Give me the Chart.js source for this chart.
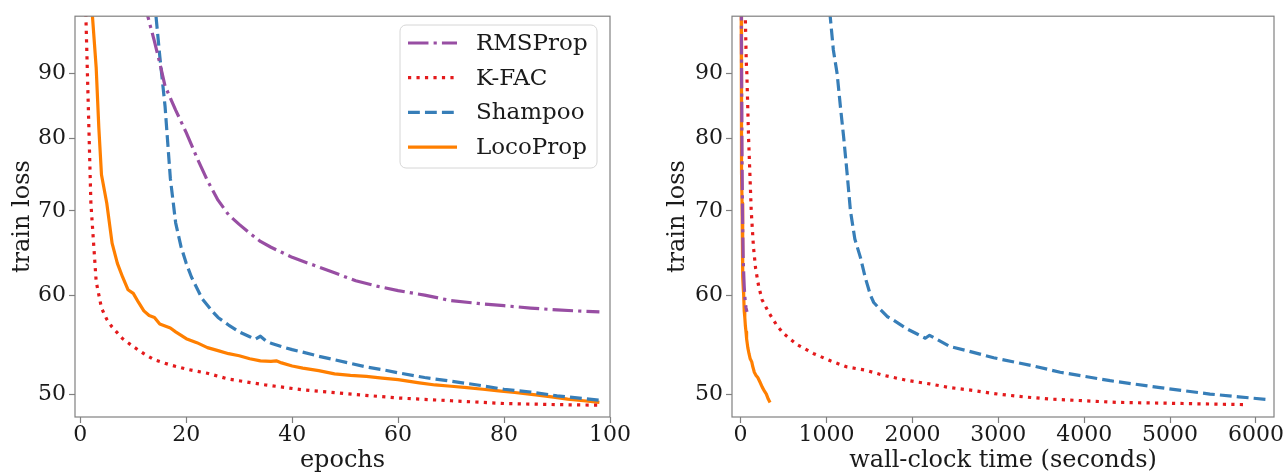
<!DOCTYPE html>
<html>
<head>
<meta charset="utf-8">
<script src="https://cdn.jsdelivr.net/npm/chart.js@4.4.1/dist/chart.umd.min.js"></script>
<style>
  body { margin: 0; background: #fff; }
  #wrap { position: relative; width: 1287px; height: 474px; overflow: hidden; }
  canvas { position: absolute; top: 0; }
  #left { left: 0; }
  #right { left: 640px; }
</style>
</head>
<body>
<div id="wrap">
  <canvas id="left" width="640" height="474"></canvas>
  <canvas id="right" width="647" height="474"></canvas>
</div>
<script>
// 축 눈금
const yTicks = [50, 60, 70, 80, 90];
const epochTicks = [0, 20, 40, 60, 80, 100];
const timeTicks = [0, 1000, 2000, 3000, 4000, 5000, 6000];
const seriesNames = ['RMSProp', 'K-FAC', 'Shampoo', 'LocoProp'];

// 왼쪽: epoch 기준
const epochsRMSProp = [12, 13, 14, 15, 16, 18, 20, 22, 24, 26, 28, 30, 32, 34, 36, 38, 40, 44, 48, 52, 56, 60, 65, 70, 75, 80, 85, 90, 95, 98];
const lossRMSProp = [103, 99, 95.5, 91.8, 88, 84.2, 80.8, 77.2, 74, 71.4, 69.5, 68.3, 67.2, 66.2, 65.5, 64.9, 64.3, 63.4, 62.5, 61.6, 61.0, 60.5, 60.0, 59.4, 59.1, 58.85, 58.6, 58.4, 58.25, 58.2];

const epochsKFAC = [1, 2, 3, 4, 5, 6, 8, 10, 12, 14, 17, 20, 24, 28, 35, 42, 50, 60, 70, 80, 90, 98];
const lossKFAC = [102, 71, 61.5, 58.6, 57.4, 56.6, 55.4, 54.6, 53.9, 53.3, 52.8, 52.4, 52.0, 51.45, 50.9, 50.45, 50.1, 49.7, 49.45, 49.2, 49.1, 49.05];

const epochsShampoo = [14, 15, 16, 17, 18, 19, 20, 21, 22, 23, 24, 25, 26, 28, 30, 32, 33, 34, 35, 36, 38, 40, 42, 45, 48, 51, 54, 57, 60, 65, 70, 75, 80, 85, 90, 95, 98];
const lossShampoo = [103, 93, 84.8, 74.3, 68.5, 65.6, 63.6, 62.0, 60.8, 59.6, 58.9, 58.2, 57.6, 56.8, 56.1, 55.6, 55.35, 55.65, 55.2, 54.95, 54.6, 54.3, 54.05, 53.65, 53.3, 52.95, 52.6, 52.35, 52.05, 51.6, 51.25, 50.9, 50.5, 50.25, 49.9, 49.65, 49.5];

const epochsLocoProp = [2, 3, 3.5, 4, 5, 6, 7, 8, 9, 10, 11, 12, 13, 14, 15, 16, 17, 18, 20, 22, 24, 26, 28, 30, 32, 34, 36, 37, 38, 40, 42, 45, 48, 51, 54, 57, 60, 64, 67, 70, 73, 76, 79, 82, 86, 89, 92, 95, 98];
const lossLocoProp = [104, 91, 81.5, 74.8, 71, 66, 63.6, 62, 60.6, 60.2, 59.2, 58.3, 57.8, 57.6, 56.9, 56.7, 56.5, 56.1, 55.4, 55.0, 54.5, 54.2, 53.9, 53.7, 53.4, 53.2, 53.15, 53.2, 53.0, 52.7, 52.5, 52.25, 51.95, 51.8, 51.7, 51.55, 51.4, 51.1, 50.9, 50.78, 50.66, 50.5, 50.36, 50.2, 49.98, 49.8, 49.6, 49.45, 49.3];

// 오른쪽: 경과 시간(초) 기준
const timeRMSProp = [9, 10, 12, 14, 15, 17, 19, 21, 24, 27, 30, 36, 42, 48, 56, 64, 74];
const tLossRMSProp = [103, 95, 89, 84, 80.8, 77, 74, 71.4, 68.3, 66.2, 64.3, 62.5, 61.0, 60, 59.1, 58.6, 58.2];

const timeKFAC = [50, 55, 66, 73, 93, 124, 150, 175, 210, 250, 329, 427, 504, 659, 852, 1047, 1241, 1453, 1667, 1957, 2200, 2442, 2700, 3000, 3300, 3605, 4000, 4380, 4800, 5151, 5500, 5892];
const tLossKFAC = [104, 100, 92, 90, 80, 70, 65.5, 63, 61, 59.5, 58.1, 56.7, 55.9, 54.8, 53.9, 53.2, 52.6, 52.3, 51.8, 51.3, 51.0, 50.65, 50.4, 50.05, 49.8, 49.6, 49.45, 49.3, 49.25, 49.2, 49.15, 49.1];

const timeShampoo = [1030, 1043, 1080, 1124, 1160, 1201, 1240, 1279, 1330, 1395, 1450, 1512, 1550, 1620, 1706, 1783, 1938, 2050, 2150, 2200, 2250, 2442, 2636, 2946, 3411, 3721, 4302, 4884, 5465, 5800, 6143];
const tLossShampoo = [104, 100, 94, 90, 85, 80, 75, 70, 66.5, 64.3, 62, 60, 59.2, 58.5, 57.7, 57.3, 56.4, 55.9, 55.45, 55.75, 55.5, 54.6, 54.2, 53.5, 52.7, 52.1, 51.3, 50.65, 50.06, 49.8, 49.56];

const timeLocoProp = [7, 8, 10, 12, 14, 17, 21, 25, 28, 32, 36, 42, 49, 56, 63, 70, 84, 98, 112, 130, 140, 160, 180, 200, 224, 252, 280, 300, 322, 343];
const tLossLocoProp = [104, 100, 90, 81, 75, 71, 66, 63.6, 62, 60.6, 60, 58.3, 57.6, 56.7, 56.1, 55.4, 54.5, 53.9, 53.4, 53.1, 52.7, 52.1, 51.8, 51.6, 51.2, 50.7, 50.3, 50.05, 49.6, 49.3];

const FONT = 'DejaVu Serif';
const TEXT = '#1a1a1a';
const SPINE = '#808080';
const LW = 3.2;

const styles = [
    { color: '#984ea3', dash: [6.4 * LW, 1.6 * LW, 1 * LW, 1.6 * LW] },
    { color: '#e41a1c', dash: [1 * LW, 1.65 * LW] },
    { color: '#377eb8', dash: [3.7 * LW, 1.6 * LW] },
    { color: '#ff7f00', dash: [] }
];

function toPoints(xs, ys) {
    return xs.map((x, i) => ({ x: x, y: ys[i] }));
}

function makeDatasets(sets) {
    return sets.map((s, i) => ({
        label: seriesNames[i],
        data: toPoints(s[0], s[1]),
        borderColor: styles[i].color,
        borderDash: styles[i].dash,
        borderWidth: LW,
        borderCapStyle: 'butt',
        borderJoinStyle: 'round',
        pointRadius: 0,
        tension: 0,
        fill: false,
        clip: 0
    }));
}

// 테두리(네 면 모두)
const frame = {
    id: 'frame',
    afterDraw(chart) {
        const a = chart.chartArea;
        const ctx = chart.ctx;
        ctx.save();
        ctx.strokeStyle = SPINE;
        ctx.lineWidth = 1.2;
        ctx.strokeRect(a.left, a.top, a.right - a.left, a.bottom - a.top);
        ctx.restore();
    }
};

// 범례 박스 (왼쪽 차트 안)
const legendBox = {
    id: 'legendBox',
    afterDraw(chart) {
        const ctx = chart.ctx;
        const x0 = 400, y0 = 25, w = 197, h = 143, r = 6;
        ctx.save();
        ctx.beginPath();
        ctx.roundRect(x0, y0, w, h, r);
        ctx.fillStyle = 'rgba(255,255,255,0.85)';
        ctx.fill();
        ctx.strokeStyle = '#d6d6d6';
        ctx.lineWidth = 1;
        ctx.stroke();
        ctx.font = '23px "' + FONT + '"';
        ctx.textBaseline = 'middle';
        ctx.fillStyle = TEXT;
        chart.data.datasets.forEach((ds, i) => {
            const y = 43 + i * 34.7;
            ctx.beginPath();
            ctx.setLineDash(styles[i].dash);
            ctx.lineCap = 'butt';
            ctx.strokeStyle = styles[i].color;
            ctx.lineWidth = LW;
            ctx.moveTo(408, y);
            ctx.lineTo(457, y);
            ctx.stroke();
            ctx.setLineDash([]);
            ctx.fillText(ds.label, 476, y + 1);
        });
        ctx.restore();
    }
};

function makeChart(canvasId, datasets, xCfg, lay, plugins) {
    return new Chart(document.getElementById(canvasId), {
        type: 'line',
        data: { datasets: datasets },
        options: {
            responsive: false,
            animation: false,
            layout: { padding: lay.padding },
            plugins: { legend: { display: false }, tooltip: { enabled: false } },
            scales: {
                x: {
                    type: 'linear',
                    min: xCfg.min,
                    max: xCfg.max,
                    afterBuildTicks: s => { s.ticks = xCfg.ticks.map(v => ({ value: v })); },
                    afterFit: s => { s.height = 57; },
                    grid: { drawOnChartArea: false, drawTicks: true, tickLength: 6, tickColor: SPINE, tickWidth: 1.2 },
                    border: { display: false },
                    ticks: {
                        maxRotation: 0, autoSkip: false, padding: 0, color: TEXT,
                        font: { family: FONT, size: 22, lineHeight: 1.1 },
                        callback: v => String(v)
                    },
                    title: {
                        display: true, text: xCfg.title, color: TEXT,
                        font: { family: FONT, size: 24, lineHeight: 1.1 },
                        padding: { top: 0, bottom: 0 }
                    }
                },
                y: {
                    type: 'logarithmic',
                    min: 48,
                    max: 100,
                    afterBuildTicks: s => { s.ticks = yTicks.map(v => ({ value: v })); },
                    afterFit: s => { s.width = lay.yWidth; },
                    grid: { drawOnChartArea: false, drawTicks: true, tickLength: 6, tickColor: SPINE, tickWidth: 1.2 },
                    border: { display: false },
                    ticks: {
                        padding: 3, color: TEXT,
                        font: { family: FONT, size: 22 },
                        callback: v => String(v)
                    },
                    title: {
                        display: true, text: 'train loss', color: TEXT,
                        font: { family: FONT, size: 24, lineHeight: 1.2 },
                        padding: { top: lay.titlePad, bottom: 0 }
                    }
                }
            }
        },
        plugins: plugins
    });
}

makeChart('left',
    makeDatasets([[epochsRMSProp, lossRMSProp], [epochsKFAC, lossKFAC], [epochsShampoo, lossShampoo], [epochsLocoProp, lossLocoProp]]),
    { min: -1, max: 100, ticks: epochTicks, title: 'epochs' },
    { padding: { left: 0, right: 30, top: 13, bottom: 0 }, yWidth: 75, titlePad: 8.6 },
    [frame, legendBox]);

makeChart('right',
    makeDatasets([[timeRMSProp, tLossRMSProp], [timeKFAC, tLossKFAC], [timeShampoo, tLossShampoo], [timeLocoProp, tLossLocoProp]]),
    { min: -100, max: 6210, ticks: timeTicks, title: 'wall-clock time (seconds)' },
    { padding: { left: 0, right: 13, top: 6, bottom: 0 }, yWidth: 92, titlePad: 23.6 },
    [frame]);
</script>
</body>
</html>
